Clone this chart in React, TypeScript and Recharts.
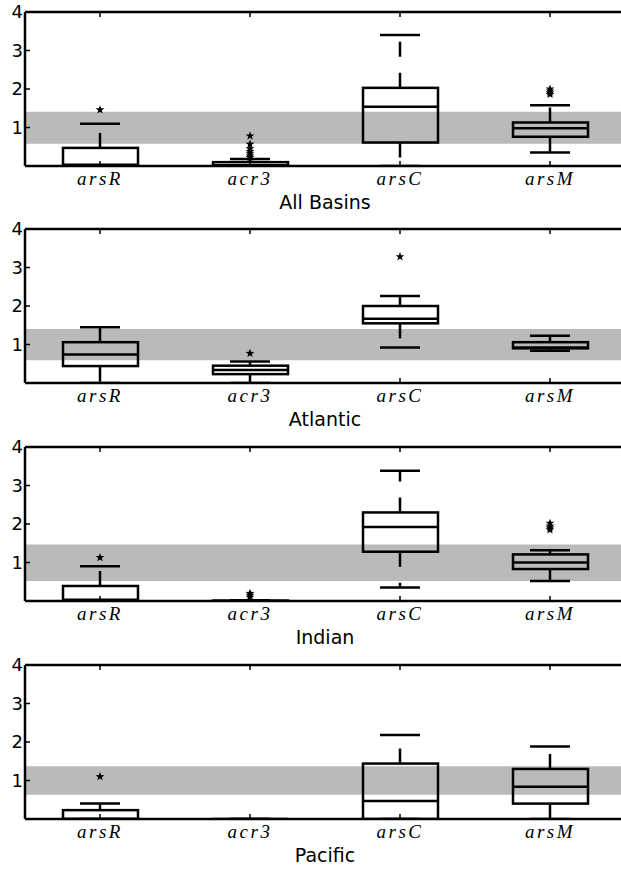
import {
  Bar,
  ComposedChart,
  ReferenceArea,
  Scatter,
  XAxis,
  YAxis,
} from "recharts";

const categories = ["arsR", "acr3", "arsC", "arsM"];
const basins = ["All Basins", "Atlantic", "Indian", "Pacific"];

// per basin, per gene
const whiskerLow = [
  [0, 0, 0, 0.35],
  [0, 0, 0.92, 0.84],
  [0, 0, 0.35, 0.52],
  [0, 0, 0, 0],
];
const quartile1 = [
  [0.02, 0.01, 0.61, 0.76],
  [0.44, 0.23, 1.55, 0.9],
  [0.02, 0, 1.28, 0.83],
  [0, 0, 0, 0.4],
];
const medians = [
  [0.03, 0.02, 1.54, 0.98],
  [0.74, 0.34, 1.67, 0.92],
  [0.03, 0, 1.92, 1.0],
  [0, 0, 0.47, 0.84],
];
const quartile3 = [
  [0.47, 0.1, 2.03, 1.13],
  [1.06, 0.45, 2.0, 1.06],
  [0.39, 0.01, 2.3, 1.21],
  [0.23, 0, 1.44, 1.3],
];
const whiskerHigh = [
  [1.1, 0.18, 3.4, 1.58],
  [1.45, 0.56, 2.26, 1.23],
  [0.9, 0.02, 3.38, 1.32],
  [0.4, 0, 2.18, 1.88],
];
const outliers = [
  [[1.46], [0.78, 0.57, 0.45, 0.38, 0.32, 0.26, 0.22], [], [2.0, 1.95, 1.9, 1.86]],
  [[], [0.77], [3.28], []],
  [[1.13], [0.2, 0.15, 0.1], [], [2.02, 1.95, 1.9, 1.85]],
  [[1.1], [], [], []],
];
const bandLow = [0.58, 0.59, 0.52, 0.63];
const bandHigh = [1.41, 1.4, 1.47, 1.37];
const yTicks = [1, 2, 3, 4];

const PANEL_TOPS = [12, 229, 447, 665];
const PLOT_H = 154;
const LW = 2.5;
const DASH = "15 16";

function starPath(cx: number, cy: number, ro: number, ri: number) {
  let d = "";
  for (let k = 0; k < 10; k++) {
    const r = k % 2 === 0 ? ro : ri;
    const a = -Math.PI / 2 + (k * Math.PI) / 5;
    d += `${k === 0 ? "M" : "L"}${cx + r * Math.cos(a)},${cy + r * Math.sin(a)}`;
  }
  return d + "Z";
}

const BoxShape = (p: any) => {
  const top = Math.min(p.y, p.y + p.height);
  return (
    <rect
      x={p.x}
      y={top}
      width={p.width}
      height={Math.abs(p.height)}
      fill="none"
      stroke="#000"
      strokeWidth={LW}
    />
  );
};

const WhiskerUp = (p: any) => {
  const cx = p.x + p.width / 2;
  const top = Math.min(p.y, p.y + p.height);
  const bot = Math.max(p.y, p.y + p.height);
  return (
    <path
      d={`M${cx},${bot}V${top}`}
      stroke="#000"
      strokeWidth={LW}
      strokeDasharray={DASH}
      fill="none"
    />
  );
};

const WhiskerDown = (p: any) => {
  const cx = p.x + p.width / 2;
  const top = Math.min(p.y, p.y + p.height);
  const bot = Math.max(p.y, p.y + p.height);
  return (
    <path
      d={`M${cx},${top}V${bot}`}
      stroke="#000"
      strokeWidth={LW}
      strokeDasharray={DASH}
      fill="none"
    />
  );
};

const hLine = (half: number) => (p: any) => (
  <line
    x1={p.cx - half}
    x2={p.cx + half}
    y1={p.cy}
    y2={p.cy}
    stroke="#000"
    strokeWidth={LW}
  />
);

const Star = (p: any) => <path d={starPath(p.cx, p.cy, 4.6, 1.9)} fill="#000" />;

const LeftTick = (p: any) => (
  <g>
    <line x1={p.x} x2={p.x + 5} y1={p.y} y2={p.y} stroke="#000" strokeWidth={1.5} />
    <text
      x={p.x - 2}
      y={p.y}
      dy="0.36em"
      textAnchor="end"
      fontFamily="DejaVu Sans"
      fontSize={18}
      fill="#000"
    >
      {p.payload.value}
    </text>
  </g>
);

const BottomTick = (p: any) => (
  <g>
    <line x1={p.x} x2={p.x} y1={p.y} y2={p.y - 5} stroke="#000" strokeWidth={1.5} />
    <text
      x={p.x}
      y={p.y + 19}
      textAnchor="middle"
      fontFamily="Liberation Serif"
      fontStyle="italic"
      fontSize={19}
      letterSpacing={2.5}
      fill="#000"
    >
      {p.payload.value}
    </text>
  </g>
);

const TopTick = (p: any) => (
  <line x1={p.x} x2={p.x} y1={p.y} y2={p.y + 5} stroke="#000" strokeWidth={1.5} />
);

function Panel({ b }: { b: number }) {
  const rows = categories.map((name, i) => ({
    name,
    pos: i + 1,
    lo: whiskerLow[b][i],
    q1: quartile1[b][i],
    med: medians[b][i],
    q3: quartile3[b][i],
    hi: whiskerHigh[b][i],
  }));
  const fliers = outliers[b].flatMap((vals, i) =>
    vals.map((v) => ({ pos: i + 1, v })),
  );
  const axisLine = { stroke: "#000", strokeWidth: LW };

  return (
    <div style={{ position: "absolute", left: 0, top: PANEL_TOPS[b] - 12 }}>
      <ComposedChart
        width={640}
        height={218}
        data={rows}
        margin={{ top: 11, right: 15, bottom: 22, left: 0 }}
      >
        <XAxis
          xAxisId="main"
          dataKey="name"
          height={30}
          interval={0}
          tickSize={0}
          tickMargin={0}
          tickLine={false}
          axisLine={axisLine}
          tick={(p: any) => <BottomTick {...p} />}
        />
        <XAxis
          xAxisId="up"
          dataKey="name"
          orientation="top"
          height={1}
          interval={0}
          tickSize={0}
          tickMargin={0}
          tickLine={false}
          axisLine={axisLine}
          tick={(p: any) => <TopTick {...p} />}
        />
        <XAxis xAxisId="down" dataKey="name" orientation="top" height={0} hide />
        <XAxis
          xAxisId="num"
          type="number"
          dataKey="pos"
          domain={[0.5, 4.5]}
          orientation="top"
          height={0}
          hide
        />
        <YAxis
          type="number"
          domain={[0, 4]}
          ticks={yTicks}
          width={25}
          allowDataOverflow
          tickSize={0}
          tickMargin={0}
          tickLine={false}
          axisLine={axisLine}
          tick={(p: any) => <LeftTick {...p} />}
        />
        <ReferenceArea
          xAxisId="num"
          x1={0.5}
          x2={4.5}
          y1={bandLow[b]}
          y2={bandHigh[b]}
          fill="#bababa"
          fillOpacity={1}
          stroke="none"
        />
        <Bar
          xAxisId="up"
          dataKey={(d: any) => [d.q3, d.hi]}
          barSize={10}
          shape={WhiskerUp}
          isAnimationActive={false}
        />
        <Bar
          xAxisId="down"
          dataKey={(d: any) => [d.lo, d.q1]}
          barSize={10}
          shape={WhiskerDown}
          isAnimationActive={false}
        />
        <Bar
          xAxisId="main"
          dataKey={(d: any) => [d.q1, d.q3]}
          barSize={75}
          shape={BoxShape}
          isAnimationActive={false}
        />
        <Scatter xAxisId="num" dataKey="med" shape={hLine(37.5)} isAnimationActive={false} />
        <Scatter xAxisId="num" dataKey="hi" shape={hLine(20)} isAnimationActive={false} />
        <Scatter xAxisId="num" dataKey="lo" shape={hLine(20)} isAnimationActive={false} />
        <Scatter
          xAxisId="num"
          data={fliers}
          dataKey="v"
          shape={Star}
          isAnimationActive={false}
        />
      </ComposedChart>
      <div
        style={{
          position: "absolute",
          left: 0,
          top: 12 + PLOT_H + 27,
          width: 650,
          textAlign: "center",
          fontFamily: "DejaVu Sans",
          fontSize: 19,
          lineHeight: "19px",
          color: "#000",
        }}
      >
        {basins[b]}
      </div>
    </div>
  );
}

export default function App() {
  return (
    <div
      style={{
        position: "absolute",
        left: 0,
        top: 0,
        width: 621,
        height: 871,
        overflow: "hidden",
        background: "#fff",
      }}
    >
      {basins.map((_, b) => (
        <Panel key={b} b={b} />
      ))}
    </div>
  );
}
